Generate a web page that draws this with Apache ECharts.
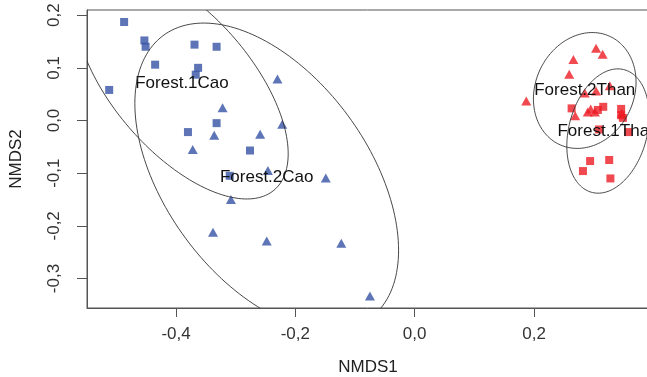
<!DOCTYPE html>
<html>
<head>
<meta charset="utf-8">
<script src="https://cdn.jsdelivr.net/npm/echarts@6/dist/echarts.min.js"></script>
<style>
html,body{margin:0;padding:0;background:#fff;}
#chart{width:647px;height:377px;}
</style>
</head>
<body>
<div id="chart"></div>
<script>
// Forest.1Cao (blue squares)
const cao1X = [-0.487,-0.453,-0.451,-0.369,-0.332,-0.435,-0.363,-0.367,-0.512,-0.332,-0.380,-0.276,-0.310];
const cao1Y = [0.187,0.152,0.140,0.144,0.140,0.106,0.100,0.087,0.058,-0.005,-0.022,-0.057,-0.105];
// Forest.2Cao (blue triangles)
const cao2X = [-0.230,-0.322,-0.222,-0.336,-0.259,-0.372,-0.246,-0.149,-0.308,-0.338,-0.248,-0.123,-0.075];
const cao2Y = [0.079,0.024,-0.007,-0.028,-0.026,-0.055,-0.095,-0.109,-0.150,-0.212,-0.229,-0.233,-0.333];
// Forest.2Than (red triangles)
const than2X = [0.304,0.315,0.266,0.259,0.187,0.327,0.285,0.304,0.269,0.295,0.302,0.290,0.347];
const than2Y = [0.137,0.126,0.116,0.088,0.037,0.066,0.052,0.056,0.009,0.022,0.016,0.016,0.014];
// Forest.1Than (red squares)
const than1X = [0.263,0.316,0.307,0.346,0.346,0.349,0.309,0.358,0.294,0.326,0.282,0.328];
const than1Y = [0.023,0.026,0.020,0.022,0.010,0.005,-0.017,-0.022,-0.077,-0.075,-0.096,-0.110];

// Group ellipses (centre, half-extent x, half-extent y, correlation) and labels
const groupNames = ['Forest.1Cao','Forest.2Cao','Forest.2Than','Forest.1Than'];
const ellCX = [-0.390,-0.248,0.285,0.324];
const ellCY = [0.071,-0.107,0.057,-0.020];
const ellW  = [0.178,0.221,0.086,0.069];
const ellH  = [0.220,0.292,0.110,0.118];
const ellR  = [-0.61,-0.477,0.146,0.24];

const xTicks = [-0.4,-0.2,0.0,0.2];
const yTicks = [-0.3,-0.2,-0.1,0.0,0.1,0.2];

const zip = (a,b) => a.map((v,i)=>[v,b[i]]);
const fmt = v => (Math.abs(v) < 1e-9 ? 0 : v).toFixed(1).replace('.', ',');
const FONT = '"Liberation Sans", Arial, sans-serif';
const BLUE = '#3553a4';
const RED = '#ec1c24';

const ellData = groupNames.map((n,i)=>[ellCX[i],ellCY[i],ellW[i],ellH[i],ellR[i],n]);

const chart = echarts.init(document.getElementById('chart'), null, {renderer:'canvas'});
chart.setOption({
  animation:false,
  backgroundColor:'#fff',
  grid:{left:87, top:10, width:562, height:298, show:true, borderColor:'#555', borderWidth:1, containLabel:false, outerBoundsMode:'none'},
  xAxis:{
    type:'value', min:-0.5492, max:0.3927,
    axisLine:{show:true, onZero:false, lineStyle:{color:'#555', width:1}},
    splitLine:{show:false},
    axisTick:{show:true, length:9, customValues:xTicks, lineStyle:{color:'#555'}},
    axisLabel:{customValues:xTicks, formatter:fmt, margin:18, fontSize:17, color:'#333', fontFamily:FONT},
    name:'NMDS1', nameLocation:'middle', nameGap:51,
    nameTextStyle:{fontSize:17, color:'#222', fontFamily:FONT}
  },
  yAxis:{
    type:'value', min:-0.356, max:0.2098,
    axisLine:{show:true, onZero:false, lineStyle:{color:'#555', width:1}},
    splitLine:{show:false},
    axisTick:{show:true, length:10, customValues:yTicks, lineStyle:{color:'#555'}},
    axisLabel:{customValues:yTicks, formatter:fmt, rotate:90, margin:24, fontSize:17, color:'#333', fontFamily:FONT},
    name:'NMDS2', nameLocation:'middle', nameGap:62,
    nameTextStyle:{fontSize:17, color:'#222', fontFamily:FONT}
  },
  series:[
    {type:'scatter', data:zip(cao1X,cao1Y), symbol:'rect', symbolSize:8, itemStyle:{color:BLUE}, z:2},
    {type:'scatter', data:zip(cao2X,cao2Y), symbol:'triangle', symbolSize:[10,9], itemStyle:{color:BLUE}, z:2},
    {type:'scatter', data:zip(than2X,than2Y), symbol:'triangle', symbolSize:[10,9], itemStyle:{color:RED}, z:2},
    {type:'scatter', data:zip(than1X,than1Y), symbol:'rect', symbolSize:8, itemStyle:{color:RED}, z:2},
    {
      type:'custom', z:3, clip:true,
      data:ellData,
      encode:{x:0, y:1},
      renderItem:function(params, api){
        const cx = api.value(0), cy = api.value(1), w = api.value(2), h = api.value(3), r = api.value(4);
        const name = groupNames[params.dataIndex];
        const s = Math.sqrt(1 - r*r);
        const pts = [];
        for (let k=0;k<=180;k++){
          const t = 2*Math.PI*k/180;
          pts.push(api.coord([cx + w*Math.cos(t), cy + h*(r*Math.cos(t) + s*Math.sin(t))]));
        }
        const c = api.coord([cx,cy]);
        return {type:'group', children:[
          {type:'polyline', shape:{points:pts}, style:{stroke:'#333', fill:null, lineWidth:0.9}},
          {type:'text', x:c[0], y:c[1], style:{text:name, fill:'#111', fontSize:17, fontFamily:FONT, align:'center', verticalAlign:'middle'}}
        ]};
      }
    }
  ]
});
</script>
</body>
</html>
